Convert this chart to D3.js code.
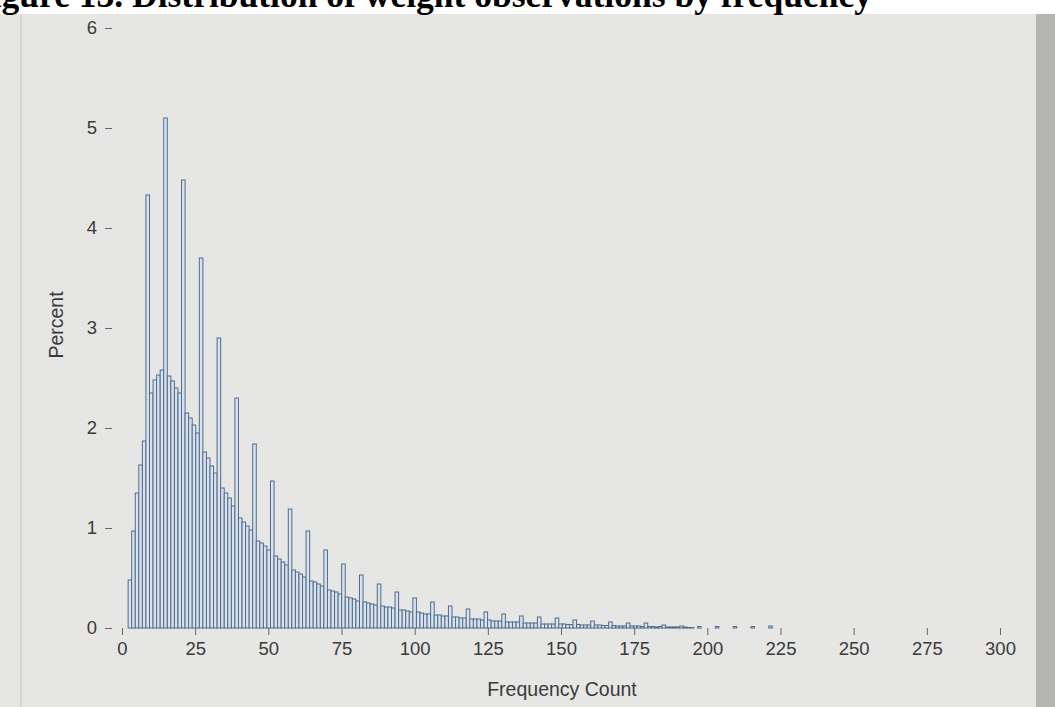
<html>
<script src='https://d3js.org/d3.v7.min.js'></script>
<style>
  body {margin: 0; background: white;}
  text {font-family: "Liberation Sans", Arial, sans-serif; fill: #3a3a3a;}
  .title {font-family: "Liberation Serif", "Times New Roman", serif; font-weight: bold; fill: black;}
</style>
<body>
<svg width=1055 height=707></svg>
<script>
// histogram bins: first bin starts at binStart, every bin is binWidth wide
var binStart = 2.1
var binWidth = 1.216

// percent per bin (every 5th bin is a spike)
var percent = [
  0.48, 0.97, 1.35, 1.63, 1.87,
  4.33, 2.35, 2.48, 2.53, 2.58,
  5.10, 2.52, 2.47, 2.40, 2.35,
  4.48, 2.15, 2.10, 2.03, 1.95,
  3.70, 1.76, 1.70, 1.62, 1.55,
  2.90, 1.40, 1.35, 1.30, 1.22,
  2.30, 1.10, 1.06, 1.02, 0.98,
  1.84, 0.87, 0.85, 0.82, 0.78,
  1.47, 0.72, 0.69, 0.66, 0.63,
  1.19, 0.58, 0.56, 0.54, 0.51,
  0.97, 0.47, 0.46, 0.44, 0.42,
  0.78, 0.38, 0.37, 0.36, 0.34,
  0.64, 0.31, 0.30, 0.29, 0.27,
  0.53, 0.26, 0.25, 0.24, 0.23,
  0.44, 0.22, 0.21, 0.21, 0.20,
  0.36, 0.18, 0.18, 0.17, 0.16,
  0.30, 0.16, 0.15, 0.14, 0.14,
  0.26, 0.13, 0.13, 0.12, 0.12,
  0.22, 0.11, 0.11, 0.10, 0.10,
  0.19, 0.09, 0.09, 0.09, 0.08,
  0.16, 0.08, 0.07, 0.07, 0.07,
  0.14, 0.06, 0.06, 0.06, 0.06,
  0.12, 0.05, 0.05, 0.05, 0.05,
  0.11, 0.04, 0.04, 0.04, 0.04,
  0.10, 0.04, 0.04, 0.035, 0.035,
  0.08, 0.035, 0.03, 0.03, 0.03,
  0.07, 0.03, 0.03, 0.025, 0.025,
  0.06, 0.025, 0.02, 0.02, 0.02,
  0.05, 0.02, 0.02, 0.02, 0.015,
  0.05, 0.015, 0.015, 0.01, 0.015,
  0.03, 0.01, 0.01, 0.01, 0.01,
  0.02, 0.01, 0.005, 0.005, 0,
  0.015, 0, 0, 0, 0,
  0.015, 0, 0, 0, 0,
  0.015, 0, 0, 0, 0,
  0.015, 0, 0, 0, 0,
  0.02
]

var xTicks = [0, 25, 50, 75, 100, 125, 150, 175, 200, 225, 250, 275, 300]
var yTicks = [0, 1, 2, 3, 4, 5, 6]

var titleText = "Figure 13. Distribution of weight observations by frequency"
var xLabel = "Frequency Count"
var yLabel = "Percent"

var x = d3.scaleLinear().domain([0, 300]).range([122, 1000])
var y = d3.scaleLinear().domain([0, 6]).range([628, 28])

var svg = d3.select("svg")

// photo of the screen behind the chart
svg.append("rect").attr("x", 0).attr("y", 14).attr("width", 1055).attr("height", 693).style("fill", "#e6e6e4")
svg.append("rect").attr("x", 1036).attr("y", 14).attr("width", 19).attr("height", 693).style("fill", "#b4b4b2")
svg.append("line").attr("x1", 21).attr("x2", 21).attr("y1", 14).attr("y2", 707).style("stroke", "#c4c8c8")

// title, mostly cut off at the top like in the photo
svg.append("text").attr("class", "title")
  .attr("x", -30).attr("y", 7)
  .style("font-size", "35.5px")
  .text(titleText)

// plot area
var left = x(-3.4), right = x(305.5), top = y(6.09), bottom = y(0)
svg.append("rect").attr("x", left).attr("y", top).attr("width", right - left).attr("height", bottom - top)
  .style("fill", "#ececea")

var bins = percent.map(function(p, i) {
  return {lo: binStart + i * binWidth, hi: binStart + (i + 1) * binWidth, p: p}
}).filter(function(d) { return d.p > 0 })

svg.append("g").selectAll("rect").data(bins).enter()
  .append("rect")
  .attr("x", function(d) { return x(d.lo) })
  .attr("y", function(d) { return y(d.p) })
  .attr("width", function(d) { return x(d.hi) - x(d.lo) })
  .attr("height", function(d) { return y(0) - y(d.p) })
  .style("fill", "#dae3ed")
  .style("stroke", "#4f6b8c")
  .style("stroke-width", 1)

svg.append("rect").attr("x", left).attr("y", top).attr("width", right - left).attr("height", bottom - top)
  .style("fill", "none").style("stroke", "#5a5a5a").style("stroke-width", 1.3)

// axes
svg.append("g").attr("transform", "translate(0," + bottom + ")")
  .call(d3.axisBottom(x).tickValues(xTicks).tickSize(7).tickPadding(7))
svg.append("g").attr("transform", "translate(" + left + ",0)")
  .call(d3.axisLeft(y).tickValues(yTicks).tickFormat(d3.format("d")).tickSize(7).tickPadding(8))

svg.selectAll(".domain").remove()
svg.selectAll(".tick line").style("stroke", "#666")
svg.selectAll(".tick text").style("font-size", "18.5px").style("font-family", "'Liberation Sans', Arial, sans-serif").style("fill", "#3a3a3a")

svg.append("text")
  .attr("text-anchor", "middle")
  .attr("x", 562).attr("y", 696)
  .style("font-size", "19.5px")
  .text(xLabel)

svg.append("text")
  .attr("text-anchor", "middle")
  .attr("transform", "translate(63,325) rotate(-90)")
  .style("font-size", "19.5px")
  .text(yLabel)
</script>
</body>
</html>
